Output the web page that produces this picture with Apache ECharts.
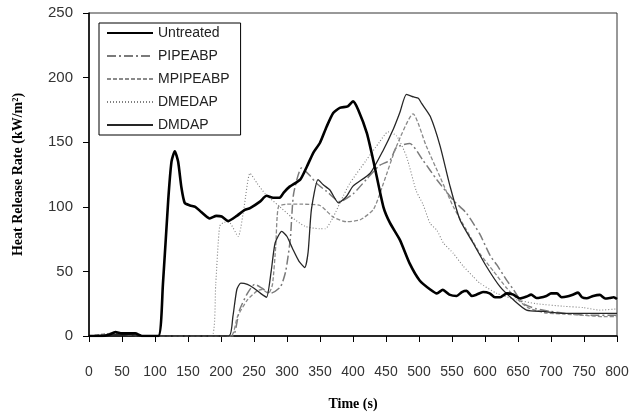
<!DOCTYPE html>
<html>
<head>
<meta charset="utf-8">
<script src="https://cdn.jsdelivr.net/npm/echarts@6/dist/echarts.min.js"></script>
<style>html,body{margin:0;padding:0;background:#fff}#c{width:643px;height:414px}</style>
</head>
<body>
<div id="c"></div>
<script>
const seriesNames = ["Untreated", "PIPEABP", "MPIPEABP", "DMEDAP", "DMDAP"];
const xTicks = [0, 800, 50];
const yTicks = [0, 250, 50];

// [time (s), HRR (kW/m2)]
const untreated = [[0,0],[20,0],[30,1],[40,3],[50,2],[60,2],[70,2],[80,0],[105,0],[112,40],[120,105],[125,135],[130,143],[135,135],[140,115],[145,103],[153,101],[161,100],[170,96],[183,91],[193,93],[201,92.5],[211,89],[224,93],[236,97.6],[244,99],[259,104],[269,108.5],[279,107],[289,107],[295,111],[304,115.6],[320,121],[330,131],[340,142],[350,149.6],[360,162],[370,172.6],[380,176.6],[392,177.7],[400,181.6],[408,175],[421,157],[432,133],[446,100],[456,87.5],[471,74.4],[486,56],[501,43],[517,36],[527,33],[536,35.7],[546,32],[557,31],[565,34],[572,35],[580,31],[587,32],[597,34],[607,33],[615,30],[623,30],[633,33],[643,32],[653,29],[663,30.5],[670,32],[678,29.4],[693,31],[700,33],[709,33],[716,30],[724,30.5],[733,32],[741,33.6],[747,30],[754,29.2],[764,31],[774,31.8],[782,29],[789,29.4],[795,30],[800,28.6]];

const pipeabp = [[0,0],[30,1],[40,2],[60,1],[80,0],[150,0],[200,0],[218,0],[228,20],[240,33],[251,40],[262,37],[275,33],[290,38],[298,50],[305,75],[310,110],[322,130],[335,124],[345,118],[360,112],[380,104],[400,110],[420,121],[440,132],[456,136],[466,146],[486,149],[506,136],[527,121],[552,105],[572,95],[592,79],[608,62],[618,55],[633,43],[643,36],[658,25],[678,21],[700,19],[730,17],[760,16],[800,16]];

const mpipeabp = [[0,0],[30,2],[40,3],[50,2],[70,1],[90,0],[150,0],[215,0],[225,15],[240,28],[255,35],[262,36],[272,33],[278,40],[283,70],[287,100],[300,102],[320,102],[350,101],[370,92],[390,88.5],[411,90],[431,98],[446,118],[466,147],[491,172],[511,147],[532,123],[552,100],[572,82],[592,64],[613,50],[633,37],[650,28],[665,22],[690,18],[720,17],[750,16],[780,15],[800,15]];

const dmedap = [[0,0],[35,2],[60,1],[90,0],[150,0],[186,0],[192,40],[198,85],[205,88],[212,88],[226,77],[235,100],[244,126],[255,118],[267,110],[287,101],[307,92],[327,85],[350,83],[358,83],[370,92],[382,105],[395,118],[420,136],[440,150],[453,158],[466,155],[481,139],[496,112],[506,102],[517,87],[527,82],[537,72],[552,64],[567,54],[582,46],[592,41],[618,33],[648,28],[678,25],[719,23],[749,22],[774,20],[800,21]];

const dmdap = [[0,0],[40,1],[60,1],[90,0],[150,0],[212,0],[218,15],[224,36],[230,41],[240,40],[250,37],[260,33],[269,30],[276,50],[282,72],[292,81],[300,77],[309,67],[318,58],[327,53],[332,65],[337,98],[347,121],[355,117],[365,113],[378,103],[390,108],[400,116],[426,126],[446,144],[461,160],[471,173],[481,187],[492,185],[499,184],[504,180],[517,170],[532,147],[547,116],[562,90],[582,72],[602,54],[623,38],[643,28],[663,20],[688,19],[720,17.5],[760,17.5],[800,17.5]];

const chart = echarts.init(document.getElementById('c'), null, {renderer: 'canvas'});
const sansFont = 'Liberation Sans';
const serifFont = 'Liberation Serif';

function mk(name, data, color, width, type) {
  return {
    name: name, type: 'line', data: data, symbol: 'none', smooth: 0.2,
    lineStyle: {color: color, width: width, type: type},
    itemStyle: {color: color},
    emphasis: {disabled: true}, z: name === 'Untreated' ? 5 : 3
  };
}

chart.setOption({
  animation: false,
  backgroundColor: '#fff',
  grid: {left: 89, right: 26, top: 13, bottom: 78, show: true, borderColor: '#333', borderWidth: 1, containLabel: false, outerBoundsMode: 'none'},
  legend: {
    orient: 'vertical', left: 99, top: 23,
    data: seriesNames,
    itemWidth: 46, itemHeight: 14, itemGap: 9,
    padding: [3, 11, 3, 7],
    itemStyle: {opacity: 0},
    borderColor: '#000', borderWidth: 1, backgroundColor: '#fff',
    textStyle: {fontFamily: sansFont, fontSize: 14, color: '#222'}
  },
  xAxis: {
    type: 'value', min: xTicks[0], max: xTicks[1], interval: xTicks[2],
    name: 'Time (s)', nameLocation: 'middle', nameGap: 61,
    nameTextStyle: {fontFamily: serifFont, fontWeight: 'bold', fontSize: 14, color: '#000'},
    axisLine: {show: true, onZero: false, lineStyle: {color: '#000', width: 1.5}},
    axisTick: {show: true, inside: false, length: 6, lineStyle: {color: '#000'}},
    axisLabel: {margin: 29, fontFamily: sansFont, fontSize: 14, color: '#333'},
    splitLine: {show: false}
  },
  yAxis: {
    type: 'value', min: yTicks[0], max: yTicks[1], interval: yTicks[2],
    name: 'Heat Release Rate (kW/m²)', nameLocation: 'middle', nameGap: 64,
    nameTextStyle: {fontFamily: serifFont, fontWeight: 'bold', fontSize: 14, color: '#000'},
    axisLine: {show: true, onZero: false, lineStyle: {color: '#000', width: 1.5}},
    axisTick: {show: true, inside: false, length: 6, lineStyle: {color: '#000'}},
    axisLabel: {margin: 16, fontFamily: sansFont, fontSize: 15, color: '#333'},
    splitLine: {show: false}
  },
  series: [
    mk('Untreated', untreated, '#000000', 2.6, 'solid'),
    mk('PIPEABP', pipeabp, '#7a7a7a', 1.5, [9, 3, 2, 3]),
    mk('MPIPEABP', mpipeabp, '#8a8a8a', 1.3, [4, 2]),
    mk('DMEDAP', dmedap, '#808080', 1.1, [1, 2]),
    mk('DMDAP', dmdap, '#262626', 1.3, 'solid')
  ]
});
</script>
</body>
</html>
